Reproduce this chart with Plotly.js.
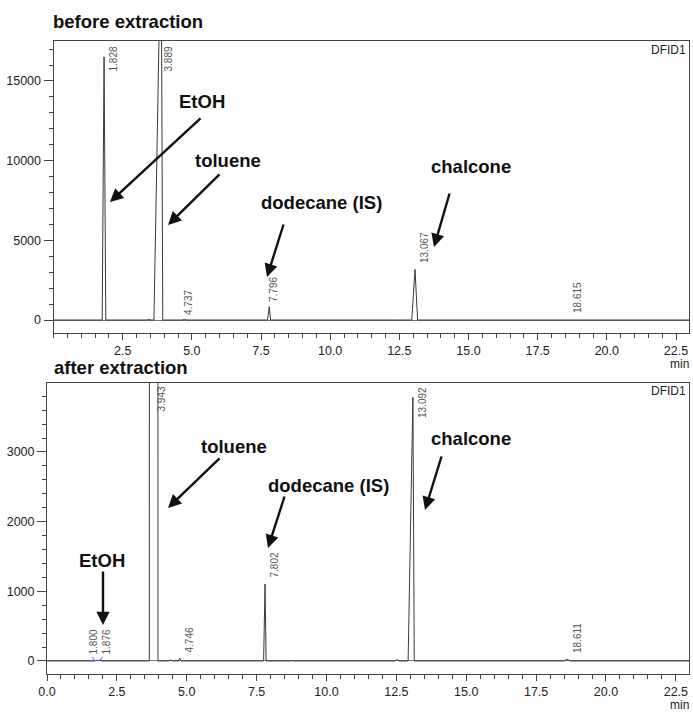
<!DOCTYPE html>
<html>
<head>
<meta charset="utf-8">
<script src="https://cdn.plot.ly/plotly-3.0.1.min.js"></script>
<style>html,body{margin:0;padding:0;background:#fff;}#chart{width:693px;height:713px;}</style>
</head>
<body>
<div id="chart"></div>
<script>
// ---- data: before extraction (time in min, signal) ----
const beforeTime = [0, 1.76, 1.828, 1.89, 3.35, 3.45, 3.55, 3.63, 3.889, 3.95, 4.65, 4.737, 4.82, 7.74, 7.796, 7.85, 12.2, 12.25, 12.3, 12.95, 13.067, 13.16, 18.5, 18.615, 18.72, 23];
const beforeSignal = [0, 0, 16520, 0, 0, 25, 0, 0, 25000, 0, 0, 40, 0, 0, 830, 0, 0, 20, 0, 0, 3180, 0, 0, 30, 0, 0];
// ---- data: after extraction ----
const afterTime = [0, 1.70, 1.80, 1.84, 1.876, 1.95, 3.66, 3.943, 3.97, 4.35, 4.42, 4.5, 4.70, 4.746, 4.80, 7.75, 7.802, 7.84, 8.7, 8.75, 8.8, 12.45, 12.52, 12.6, 12.92, 13.092, 13.14, 15.6, 15.65, 15.7, 16.6, 16.65, 16.7, 18.5, 18.611, 18.72, 23];
const afterSignal = [0, 0, 12, 5, 14, 0, 0, 400000, 0, 0, 15, 0, 0, 40, 0, 0, 1105, 0, 0, 8, 0, 0, 20, 0, 0, 3783, 0, 0, 6, 0, 0, 6, 0, 0, 25, 0, 0];
// integration mark (blue)
const markTime = [1.62, 1.70, 1.90, 1.98];
const markSignal = [60, 5, 5, 60];

// peak retention-time labels
const beforePeaks = [1.828, 3.889, 4.737, 7.796, 13.067, 18.615];
const afterPeaks = [1.800, 1.876, 3.943, 4.746, 7.802, 13.092, 18.611];

// tick labels
const topXTicks = [2.5, 5.0, 7.5, 10.0, 12.5, 15.0, 17.5, 20.0, 22.5];
const botXTicks = [0.0, 2.5, 5.0, 7.5, 10.0, 12.5, 15.0, 17.5, 20.0, 22.5];
const topYTicks = [0, 5000, 10000, 15000];
const botYTicks = [0, 1000, 2000, 3000];

// ---- layout helpers ----
const W = 693, H = 713;
const px = v => v / W;
const py = v => 1 - v / H;
const FONT = 'Liberation Sans, Arial, sans-serif';
const lineCol = '#444';

const traces = [
  {x: beforeTime, y: beforeSignal, xaxis: 'x', yaxis: 'y', type: 'scatter', mode: 'lines',
   line: {color: '#3a3a3a', width: 1}, hoverinfo: 'skip', showlegend: false},
  {x: afterTime, y: afterSignal, xaxis: 'x2', yaxis: 'y2', type: 'scatter', mode: 'lines',
   line: {color: '#3a3a3a', width: 1}, hoverinfo: 'skip', showlegend: false},
  {x: markTime, y: markSignal, xaxis: 'x2', yaxis: 'y2', type: 'scatter', mode: 'lines',
   line: {color: '#5a5aff', width: 1}, hoverinfo: 'skip', showlegend: false}
];

function xAxis(domain, ticks, anchor) {
  return {
    domain: domain, anchor: anchor, range: [0, 22.97],
    showline: true, mirror: true, linecolor: lineCol, linewidth: 1,
    showgrid: false, zeroline: false,
    ticks: 'outside', ticklen: 6, tickcolor: lineCol, tickwidth: 1,
    tickmode: 'array', tickvals: ticks, ticktext: ticks.map(v => v.toFixed(1)),
    tickfont: {family: FONT, size: 12.5, color: '#222'},
    minor: {dtick: 0.5, tick0: 0, ticks: 'outside', ticklen: 4, tickcolor: lineCol, showgrid: false}
  };
}
function yAxis(domain, range, ticks, minorStep, anchor) {
  return {
    domain: domain, anchor: anchor, range: range,
    showline: true, mirror: true, linecolor: lineCol, linewidth: 1,
    showgrid: false, zeroline: true, zerolinecolor: '#777', zerolinewidth: 1,
    ticks: 'outside', ticklen: 9, tickcolor: lineCol, tickwidth: 1,
    tickmode: 'array', tickvals: ticks, ticktext: ticks.map(String),
    tickfont: {family: FONT, size: 12.5, color: '#222'},
    minor: {dtick: minorStep, tick0: 0, ticks: 'outside', ticklen: 4, tickcolor: lineCol, showgrid: false}
  };
}

const ann = [];
function label(text, x, y, opts) {
  ann.push(Object.assign({text: text, xref: 'paper', yref: 'paper', x: px(x), y: py(y),
    showarrow: false, xanchor: 'center', yanchor: 'middle', borderpad: 0,
    font: {family: FONT, size: 18.5, color: '#111'}}, opts || {}));
}
function arrow(tx, ty, hx, hy) {
  ann.push({text: '', xref: 'paper', yref: 'paper', x: px(hx), y: py(hy),
    ax: tx - hx, ay: ty - hy, showarrow: true, arrowhead: 2, arrowsize: 1.1,
    arrowwidth: 2.4, arrowcolor: '#111', standoff: 0});
}
function peakLabel(text, x, y) {
  ann.push({text: text, xref: 'paper', yref: 'paper', x: px(x), y: py(y), textangle: -90,
    showarrow: false, xanchor: 'center', yanchor: 'middle', borderpad: 0,
    font: {family: FONT, size: 10, color: '#555'}});
}

// titles
label('<b>before extraction</b>', 52, 22, {xanchor: 'left'});
label('<b>after extraction</b>', 53, 367.5, {xanchor: 'left'});
// top compound labels
label('<b>EtOH</b>', 202, 102);
label('<b>toluene</b>', 228, 160);
label('<b>dodecane (IS)</b>', 321, 202);
label('<b>chalcone</b>', 471, 167);
arrow(202, 117, 110, 202);
arrow(221, 173, 168, 225);
arrow(284, 223, 267, 277);
arrow(450, 192, 434, 247);
// bottom compound labels
label('<b>toluene</b>', 234, 446);
label('<b>dodecane (IS)</b>', 328, 485);
label('<b>EtOH</b>', 102, 560);
label('<b>chalcone</b>', 471, 438);
arrow(221, 457, 168, 508);
arrow(285, 495, 268, 548);
arrow(103, 570, 103, 625);
arrow(442, 455, 425, 510);
// detector and unit labels
label('DFID1', 687, 50, {xanchor: 'right', font: {family: FONT, size: 12, color: '#222'}});
label('DFID1', 687, 391, {xanchor: 'right', font: {family: FONT, size: 12, color: '#222'}});
label('min', 690, 364, {xanchor: 'right', font: {family: FONT, size: 12, color: '#222'}});
label('min', 690, 705, {xanchor: 'right', font: {family: FONT, size: 12, color: '#222'}});

// peak time labels (positions in px)
const topLabelPos = [[113, 59.5], [168, 59.5], [188, 303], [273, 290], [424, 248], [577, 298]];
beforePeaks.forEach((t, i) => peakLabel(t.toFixed(3), topLabelPos[i][0], topLabelPos[i][1]));
const botLabelPos = [[93, 642.5], [106, 642.5], [161, 399.5], [189, 640.5], [274, 565.5], [422, 402], [577, 638]];
afterPeaks.forEach((t, i) => peakLabel(t.toFixed(3), botLabelPos[i][0], botLabelPos[i][1]));

const layout = {
  width: W, height: H,
  margin: {l: 0, r: 0, t: 0, b: 0},
  paper_bgcolor: '#fff', plot_bgcolor: '#fff',
  showlegend: false,
  xaxis: xAxis([px(53.5), px(689)], topXTicks, 'y'),
  yaxis: yAxis([py(333), py(41)], [-816, 17510], topYTicks, 1000, 'x'),
  xaxis2: xAxis([px(47), px(689)], botXTicks, 'y2'),
  yaxis2: yAxis([py(674), py(383)], [-187, 3990], botYTicks, 200, 'x2'),
  annotations: ann
};

Plotly.newPlot('chart', traces, layout, {staticPlot: true, displayModeBar: false});
</script>
</body>
</html>
